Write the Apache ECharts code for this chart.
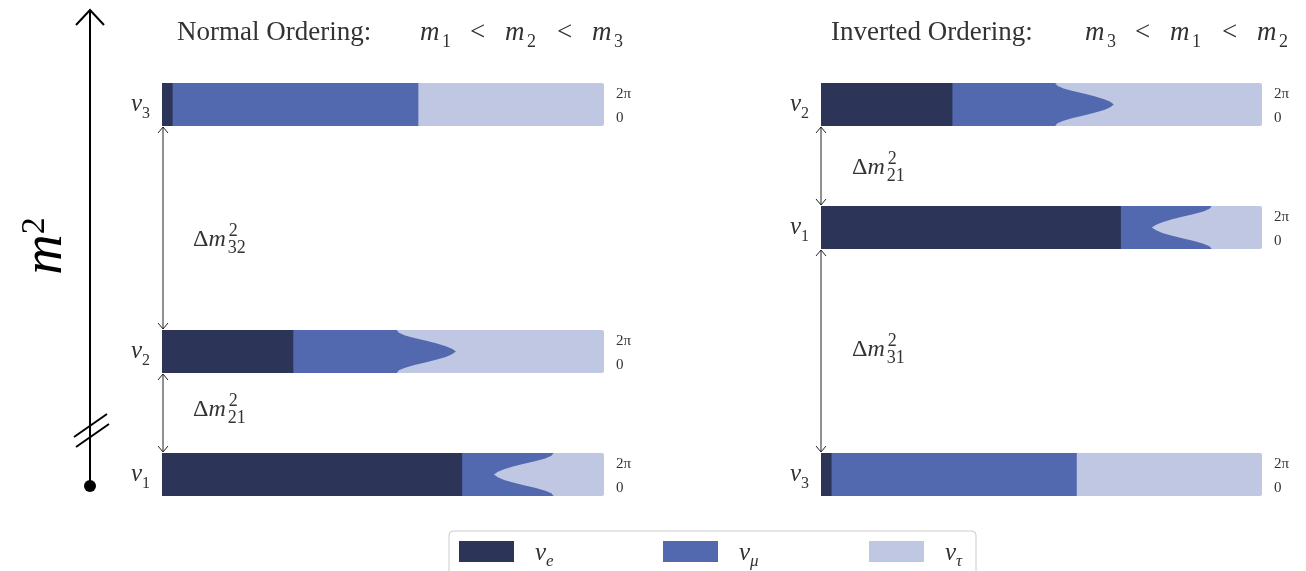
<!DOCTYPE html>
<html><head><meta charset="utf-8">
<script src="https://cdn.jsdelivr.net/npm/echarts@6/dist/echarts.min.js"></script>
<style>html,body{margin:0;padding:0;background:#fff}#c{width:1306px;height:571px}</style>
</head><body><div id="c"></div>
<script>
// ---------------- data ----------------
const flavourSubs = ['e', 'μ', 'τ'];
const flavourColors = ['#2c3558', '#5269af', '#bfc7e3'];
const deltaFull = [0, 0.125, 0.25, 0.375, 0.5, 0.625, 0.75, 0.875, 1, 1.125, 1.25, 1.375, 1.5, 1.625, 1.75, 1.875, 2]; // δ/π
const deltaFlat = [0, 2];
const yTickLabels = ['2π', '0'];
const titles = ['Normal Ordering:', 'Inverted Ordering:'];
const titleOrder = [['1', '2', '3'], ['3', '1', '2']];

// Normal ordering
const NO_nu3_e = 0.024, NO_nu3_mu = [0.556, 0.556];
const NO_nu2_e = 0.297, NO_nu2_mu = [0.234, 0.239, 0.253, 0.274, 0.301, 0.325, 0.345, 0.359, 0.368, 0.359, 0.345, 0.325, 0.301, 0.274, 0.253, 0.239, 0.234];
const NO_nu1_e = 0.679, NO_nu1_mu = [0.207, 0.202, 0.188, 0.167, 0.140, 0.115, 0.095, 0.081, 0.072, 0.081, 0.095, 0.115, 0.140, 0.167, 0.188, 0.202, 0.207];
// Inverted ordering
const IO_nu2_e = 0.298, IO_nu2_mu = [0.233, 0.238, 0.252, 0.273, 0.300, 0.324, 0.344, 0.358, 0.366, 0.358, 0.344, 0.324, 0.300, 0.273, 0.252, 0.238, 0.233];
const IO_nu1_e = 0.680, IO_nu1_mu = [0.206, 0.201, 0.187, 0.166, 0.139, 0.114, 0.094, 0.080, 0.070, 0.080, 0.094, 0.114, 0.139, 0.166, 0.187, 0.201, 0.206];
const IO_nu3_e = 0.024, IO_nu3_mu = [0.556, 0.556];

// ---------------- layout ----------------
const SERIF = "'Liberation Serif', 'DejaVu Serif', serif";
const INK = '#333333';
const BAR_H = 43;
const COLS = [{left: 162, width: 442}, {left: 821, width: 441}];
const bars = [
  {state: '3', col: 0, top: 83,  e: NO_nu3_e, mu: NO_nu3_mu, delta: deltaFlat},
  {state: '2', col: 0, top: 330, e: NO_nu2_e, mu: NO_nu2_mu, delta: deltaFull},
  {state: '1', col: 0, top: 453, e: NO_nu1_e, mu: NO_nu1_mu, delta: deltaFull},
  {state: '2', col: 1, top: 83,  e: IO_nu2_e, mu: IO_nu2_mu, delta: deltaFull},
  {state: '1', col: 1, top: 206, e: IO_nu1_e, mu: IO_nu1_mu, delta: deltaFull},
  {state: '3', col: 1, top: 453, e: IO_nu3_e, mu: IO_nu3_mu, delta: deltaFlat}
];

const mctx = document.createElement('canvas').getContext('2d');
function textW(font, s) { mctx.font = font; return mctx.measureText(s).width; }

const grids = [], xAxes = [], yAxes = [], series = [];
bars.forEach((b, i) => {
  const c = COLS[b.col];
  grids.push({left: c.left, top: b.top, width: c.width, height: BAR_H, containLabel: false});
  xAxes.push({type: 'value', gridIndex: i, min: 0, max: 1, show: false});
  yAxes.push({type: 'value', gridIndex: i, min: 0, max: 2, show: false});
  series.push({
    type: 'custom', xAxisIndex: i, yAxisIndex: i, clip: false, silent: true,
    data: b.delta.map((d, k) => [b.e, b.mu[k], d]),
    encode: {x: 0, y: 2},
    renderItem: function (params, api) {
      if (params.dataIndexInside !== 0) return null;
      const n = b.delta.length;
      const zero = [], eLine = [], muLine = [];
      for (let k = 0; k < n; k++) {
        const e = api.value(0, k), m = api.value(1, k), d = api.value(2, k);
        zero.push(api.coord([0, d]));
        eLine.push(api.coord([e, d]));
        muLine.push(api.coord([e + m, d]));
      }
      const tl = api.coord([0, 2]), br = api.coord([1, 0]);
      return {type: 'group', children: [
        {type: 'rect', shape: {x: tl[0], y: tl[1], width: br[0] - tl[0], height: br[1] - tl[1], r: 2}, style: {fill: flavourColors[2]}},
        {type: 'polygon', shape: {points: zero.concat(muLine.slice().reverse())}, style: {fill: flavourColors[1]}},
        {type: 'polygon', shape: {points: zero.concat(eLine.slice().reverse())}, style: {fill: flavourColors[0]}}
      ]};
    }
  });
});

// ---------------- graphic (annotations) ----------------
const G = [];
function txt(x, y, text, rich, extra) {
  G.push({type: 'text', x: x, y: y, silent: true,
    style: Object.assign({text: text, rich: rich, fill: INK, fontFamily: SERIF}, extra || {})});
}
const subRich = (fs, ss) => ({
  n: {fontSize: fs, fontStyle: 'italic', fontFamily: SERIF, fill: INK, lineHeight: Math.round(fs * 1.35), verticalAlign: 'middle'},
  r: {fontSize: fs, fontFamily: SERIF, fill: INK, lineHeight: Math.round(fs * 1.35), verticalAlign: 'middle'},
  s: {fontSize: ss, fontFamily: SERIF, fill: INK, lineHeight: ss + 2, verticalAlign: 'bottom'},
  si: {fontSize: ss, fontStyle: 'italic', fontFamily: SERIF, fill: INK, lineHeight: ss + 2, verticalAlign: 'bottom'}
});

// titles (token widths follow the reference layout)
const tR = subRich(27, 18);
function titleRich(textW0) {
  return {
    t: Object.assign({}, tR.r, {width: textW0}),
    m: Object.assign({}, tR.n, {width: 22}),
    s1: Object.assign({}, tR.s, {width: 28}),
    s2: Object.assign({}, tR.s, {width: 30}),
    s: tR.s,
    lt: Object.assign({}, tR.r, {width: 35})
  };
}
[[177, 243], [831, 254]].forEach((p, i) => {
  const o = titleOrder[i];
  txt(p[0], 33, '{t|' + titles[i] + '}{m|m}{s1|' + o[0] + '}{lt|<}{m|m}{s2|' + o[1] + '}{lt|<}{m|m}{s|' + o[2] + '}',
    titleRich(p[1]), {verticalAlign: 'middle', align: 'left'});
});

// bar labels and δ ticks
const nuRich = subRich(25, 16);
bars.forEach(b => {
  const c = COLS[b.col];
  txt(c.left - 12, b.top + BAR_H / 2, '{n|ν}{s|' + b.state + '}', nuRich, {align: 'right', verticalAlign: 'middle'});
  txt(c.left + c.width + 12, b.top + 11, yTickLabels[0], null, {fontSize: 15, verticalAlign: 'middle', align: 'left', fill: INK});
  txt(c.left + c.width + 12, b.top + 35, yTickLabels[1], null, {fontSize: 15, verticalAlign: 'middle', align: 'left', fill: INK});
});

// double arrows with Δm² labels
function dArrow(x, y1, y2) {
  const s = {stroke: '#222', lineWidth: 1, fill: null};
  G.push({type: 'line', silent: true, shape: {x1: x, y1: y1, x2: x, y2: y2}, style: s});
  G.push({type: 'polyline', silent: true, shape: {points: [[x - 5, y1 + 6], [x, y1], [x + 5, y1 + 6]]}, style: s});
  G.push({type: 'polyline', silent: true, shape: {points: [[x - 5, y2 - 6], [x, y2], [x + 5, y2 - 6]]}, style: s});
}
function dmLabel(x, y, sub) {
  const fs = 24, ss = 18;
  txt(x, y, '{r|Δ}{n|m}', subRich(fs, ss), {verticalAlign: 'middle', align: 'left'});
  const w = textW(fs + 'px ' + SERIF, 'Δ') + textW('italic ' + fs + 'px ' + SERIF, 'm');
  txt(x + w + 3, y - 9, '2', null, {fontSize: ss, verticalAlign: 'middle', align: 'left'});
  txt(x + w + 2, y + 8, sub, null, {fontSize: ss, verticalAlign: 'middle', align: 'left'});
}
dArrow(163, 127, 329); dmLabel(193, 240, '32');
dArrow(163, 374, 452); dmLabel(193, 410, '21');
dArrow(821, 127, 205); dmLabel(852, 168, '21');
dArrow(821, 250, 452); dmLabel(852, 350, '31');

// m² axis
const ax = {stroke: '#000', lineWidth: 2, fill: null};
G.push({type: 'line', silent: true, shape: {x1: 90, y1: 10, x2: 90, y2: 486}, style: ax});
G.push({type: 'polyline', silent: true, shape: {points: [[76, 25], [90, 10], [104, 25]]}, style: ax});
G.push({type: 'line', silent: true, shape: {x1: 74, y1: 437, x2: 107, y2: 414}, style: ax});
G.push({type: 'line', silent: true, shape: {x1: 76, y1: 447, x2: 109, y2: 424}, style: ax});
G.push({type: 'circle', silent: true, shape: {cx: 90, cy: 486, r: 6}, style: {fill: '#000'}});
G.push({type: 'text', silent: true, x: 46, y: 246, rotation: Math.PI / 2,
  style: {text: '{b|m}{p|2}', align: 'center', verticalAlign: 'middle', rich: {
    b: {fontSize: 56, fontStyle: 'italic', fontFamily: SERIF, fill: '#000', lineHeight: 56, verticalAlign: 'bottom'},
    p: {fontSize: 34, fontFamily: SERIF, fill: '#000', lineHeight: 54, verticalAlign: 'top'}
  }}});

// legend
G.push({type: 'rect', silent: true, shape: {x: 449, y: 531, width: 527, height: 70, r: 4}, style: {fill: '#fff', stroke: '#cccccc', lineWidth: 1}});
const legX = [459, 663, 869];
flavourSubs.forEach((f, i) => {
  G.push({type: 'rect', silent: true, shape: {x: legX[i], y: 541, width: 55, height: 21}, style: {fill: flavourColors[i]}});
  txt(legX[i] + 76, 553, '{n|ν}{si|' + f + '}', subRich(25, 17), {align: 'left', verticalAlign: 'middle'});
});

const chart = echarts.init(document.getElementById('c'));
chart.setOption({
  animation: false,
  backgroundColor: '#ffffff',
  grid: grids, xAxis: xAxes, yAxis: yAxes, series: series,
  graphic: {elements: G}
});
</script></body></html>
